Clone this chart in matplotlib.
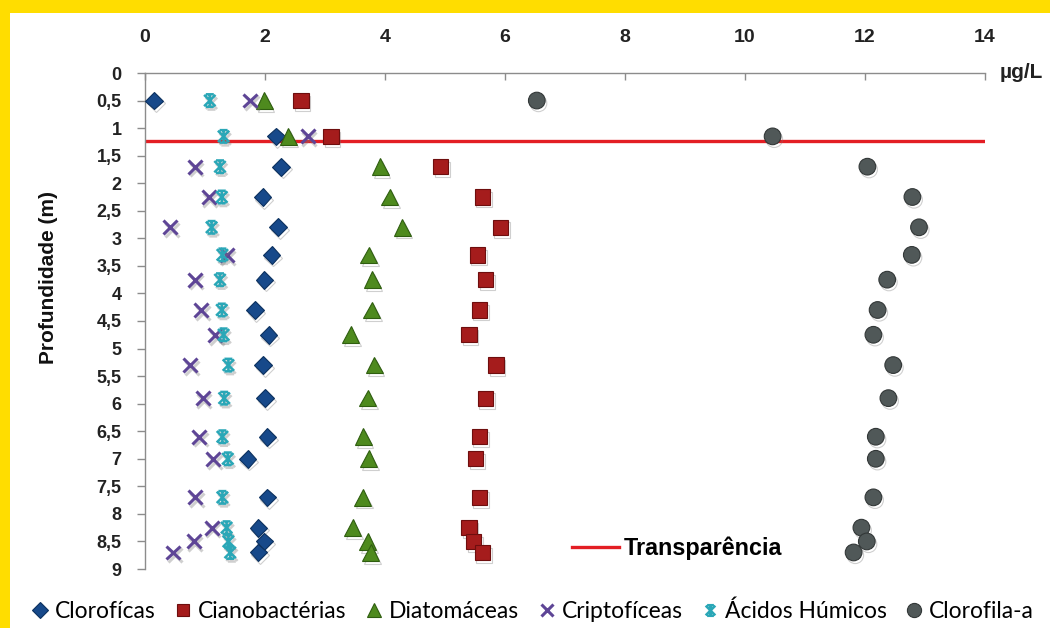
import matplotlib
matplotlib.use("Agg")
import matplotlib.pyplot as plt
import matplotlib.patheffects as pe
from matplotlib.path import Path
from matplotlib.lines import Line2D
from matplotlib.patches import Rectangle

# Sampling depths (m)
depth = [0.5, 1.15, 1.7, 2.25, 2.8, 3.3, 3.75, 4.3, 4.75, 5.3, 5.9, 6.6, 7.0, 7.7, 8.25, 8.5, 8.7]

# Concentrations (µg/L)
clorofíceas = [0.15, 2.18, 2.27, 1.96, 2.22, 2.11, 1.99, 1.83, 2.06, 1.97, 2.0, 2.04, 1.71, 2.04, 1.89, 1.99, 1.89]
cianobactérias = [2.6, 3.1, 4.93, 5.62, 5.92, 5.54, 5.68, 5.57, 5.4, 5.85, 5.67, 5.57, 5.51, 5.57, 5.4, 5.48, 5.62]
diatomáceas = [1.99, 2.39, 3.92, 4.08, 4.29, 3.73, 3.79, 3.78, 3.43, 3.82, 3.71, 3.64, 3.73, 3.63, 3.46, 3.71, 3.76]
criptofíceas = [1.75, 2.71, 0.83, 1.06, 0.42, 1.36, 0.83, 0.94, 1.17, 0.75, 0.96, 0.9, 1.14, 0.84, 1.11, 0.81, 0.47]
ácidos_húmicos = [1.08, 1.31, 1.25, 1.28, 1.11, 1.29, 1.25, 1.28, 1.31, 1.39, 1.32, 1.29, 1.38, 1.29, 1.36, 1.39, 1.42]
clorofila_a = [6.53, 10.46, 12.04, 12.79, 12.9, 12.78, 12.37, 12.21, 12.14, 12.47, 12.39, 12.18, 12.18, 12.14, 11.94, 12.03, 11.81]

transparência = 1.23

x_ticks = [0, 2, 4, 6, 8, 10, 12, 14]
y_ticks = [0, 0.5, 1, 1.5, 2, 2.5, 3, 3.5, 4, 4.5, 5, 5.5, 6, 6.5, 7, 7.5, 8, 8.5, 9]
y_ticklabels = [f"{v:g}".replace(".", ",") for v in y_ticks]

plt.rcParams["font.family"] = ["Liberation Sans", "DejaVu Sans"]
legend_font = ["Lato", "Liberation Sans", "DejaVu Sans"]

fig = plt.figure(figsize=(10.5, 6.28), dpi=100, facecolor="#FFDD00")
fig.patches.append(Rectangle((10 / 1050, 0), 1, 1 - 13 / 628, transform=fig.transFigure,
                             facecolor="white", edgecolor="none", zorder=-10))

ax = fig.add_axes([145 / 1050, 1 - 569 / 628, 840 / 1050, 496 / 628])
ax.set_zorder(5)
ax.set_facecolor("none")
ax.set_xlim(0, 14)
ax.set_ylim(9, 0)

# Excel-like "star" marker: an X crossed by a vertical bar, with flat caps
star = Path([(-1, -1), (1, 1), (-1, 1), (1, -1), (0, -1.1), (0, 1.1), (-0.7, -1.1), (0.7, -1.1), (-0.7, 1.1), (0.7, 1.1)],
            [Path.MOVETO, Path.LINETO, Path.MOVETO, Path.LINETO, Path.MOVETO, Path.LINETO,
             Path.MOVETO, Path.LINETO, Path.MOVETO, Path.LINETO])

shadow = [pe.SimpleLineShadow(offset=(1.2, -2.0), shadow_color="#777777", alpha=0.35), pe.Normal()]

series = [
    ("Clorofícas", clorofíceas, dict(marker="D", ms=9, mfc="#17498A", mec="#0C315F", mew=0.8)),
    ("Cianobactérias", cianobactérias, dict(marker="s", ms=11, mfc="#A51C1C", mec="#6E0E0E", mew=0.8)),
    ("Diatomáceas", diatomáceas, dict(marker="^", ms=12, mfc="#4E8A1E", mec="#2F5E10", mew=0.8)),
    ("Criptofíceas", criptofíceas, dict(marker="x", ms=10, mec="#5E4596", mew=2.2)),
    ("Ácidos Húmicos", ácidos_húmicos, dict(marker=star, ms=9, mec="#2AA7B7", mfc="none", mew=1.8)),
    ("Clorofila-a", clorofila_a, dict(marker="o", ms=12, mfc="#505858", mec="#333838", mew=0.8)),
]

handles = []
for label, vals, style in series:
    ax.plot(vals, depth, linestyle="none", label=label, zorder=3, path_effects=shadow, **style)
    handles.append(Line2D([], [], linestyle="none", **{**style, "ms": style["ms"] * 0.85}))

line, = ax.plot([0, 14], [transparência, transparência], color="#E31E24", lw=2.4, zorder=2)

# axes styling
for side in ("bottom", "right"):
    ax.spines[side].set_visible(False)
for side in ("top", "left"):
    ax.spines[side].set_color("#8C8C8C")
    ax.spines[side].set_linewidth(1.0)

ax.xaxis.tick_top()
ax.set_xticks(x_ticks)
ax.set_xticklabels([str(v) for v in x_ticks], fontsize=14, fontweight="bold", color="#222222")
ax.tick_params(axis="x", direction="in", length=5, width=1, color="#8C8C8C", pad=19.5)
ax.set_yticks(y_ticks)
ax.set_yticklabels(y_ticklabels, fontsize=13, fontweight="bold", color="#222222")
ax.tick_params(axis="y", direction="out", length=6, width=1, color="#8C8C8C", pad=11)

ax.text(1000 / 1050, 1 - 72 / 628, "µg/L", transform=fig.transFigure, ha="left", va="center",
        fontsize=15, fontweight="bold", color="#222222")
fig.text(49 / 1050, 1 - 277 / 628, "Profundidade (m)", rotation=90, ha="center", va="center",
         fontsize=15, fontweight="bold", color="#111111")

# transparency legend inside the plot
ax.legend([line], ["Transparência"], loc="center left",
          bbox_to_anchor=((572 - 145) / 840, (569 - 548) / 496),
          frameon=False, prop={"size": 16.8, "weight": "bold"},
          handlelength=2.0, handletextpad=0.2, borderaxespad=0, borderpad=0)

# series legend along the bottom
fig.legend(handles, [s[0] for s in series], loc="center", bbox_to_anchor=(533 / 1050, 1 - 611 / 628),
           ncol=6, frameon=False, prop={"family": legend_font, "size": 16.5},
           handlelength=0.7, handletextpad=0.3, columnspacing=0.85, borderaxespad=0, borderpad=0)

fig.savefig("out.png", dpi=100, facecolor=fig.get_facecolor())
